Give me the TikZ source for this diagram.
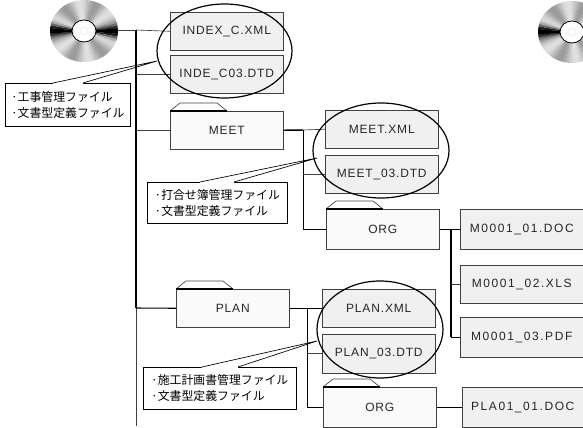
\documentclass[tikz,border=0pt]{standalone}
\usepackage{fontspec}
\setmainfont{Liberation Sans}
\newfontfamily\jpfont{Noto Sans CJK JP}
\usetikzlibrary{calc,shapes.geometric}
\definecolor{edgegray}{HTML}{404040}
\def\px{0.75pt}
\tikzset{
  filebox/.style={draw=edgegray, fill=black!6, text=black!85, minimum width=113*\px, minimum height=38*\px, anchor=north west, inner sep=0pt, font=\fontsize{9}{11}\selectfont\addfontfeature{LetterSpace=7}},
  folderbox/.style={filebox, fill=black!2},
  widefile/.style={filebox, minimum width=123*\px, font=\fontsize{9}{11}\selectfont\addfontfeature{LetterSpace=13}},
  notebox/.style={draw=black, fill=white, anchor=north west, align=left, inner sep=0pt, font=\jpfont\fontsize{8.9}{12}\selectfont},
  ringshape/.style={draw=black, line width=0.9pt, ellipse, inner sep=0pt},
  link/.style={draw=edgegray, line width=0.5pt},
  thicklink/.style={draw=black, line width=1.1pt},
  pointer/.style={draw=black, line width=0.5pt},
}
% folder tab on top of a box
\newcommand{\foldertab}[1]{
  \draw[edgegray, line width=0.5pt] (#1.north west) -- ++(10,-8) -- ++(37,0) -- ++(10,8);
  \draw[black, line width=1pt] (#1.north west) -- ++(57,0);
}
% wedge from a note to its ring, open towards the note
\newcommand{\notewedge}[4]{
  \draw[white, line width=1pt] ($(#1.north west)+(#2,0)$) -- ($(#1.north west)+(#3,0)$);
  \draw[pointer] ($(#1.north west)+(#2,0)$) -- (#4) -- ($(#1.north west)+(#3,0)$);
}
\begin{document}
\begin{tikzpicture}[x=0.75pt,y=-0.75pt]
  \useasboundingbox (0,0) rectangle (583,428);

  % discs
  \begin{scope}
    \clip (0,0) rectangle (583,428);
    \foreach \cdx/\cdy in {84/31,572/32} {
      \begin{scope}[shift={(\cdx,\cdy)}]
        \foreach \ang in {0,5,...,355} {
          \pgfmathsetmacro{\tone}{max(4,min(100,26+74*pow(abs(cos(\ang)),40)+14*cos(6*\ang+60)))}
          \fill[black!\tone!white] (0,0) -- ({34*cos(\ang)},{31*sin(\ang)}) -- ({34*cos(\ang+5.5)},{31*sin(\ang+5.5)}) -- cycle;
        }
        \fill[white] (0,0) ellipse (12 and 11);
        \draw[black, line width=0.6pt] (0,0) ellipse (12 and 11);
        \draw[black!10, line width=0.3pt] (0,0) ellipse (4 and 4);
      \end{scope}
    }
  \end{scope}
  \coordinate (disc) at (118,30);

  % top level
  \node[filebox] (indexc) at (170,12) {INDEX\_C.XML};
  \node[filebox] (indedtd) at (170,55) {INDE\_C03.DTD};
  \node[folderbox] (meet) at (170,111) {MEET};
  \node[folderbox] (plan) at (176,289) {PLAN};

  % meet files
  \node[filebox] (meetxml) at (325,110) {MEET.XML};
  \node[filebox] (meetdtd) at (325,155) {MEET\_03.DTD};
  \node[folderbox, minimum height=40*\px] (orgm) at (326,209) {ORG};
  \node[widefile, minimum height=40*\px] (mone) at (460,209) {M0001\_01.DOC};
  \node[widefile] (mtwo) at (460,265) {M0001\_02.XLS};
  \node[widefile, minimum height=40*\px] (mthree) at (460,317) {M0001\_03.PDF};

  % plan files
  \node[filebox] (planxml) at (322,289) {PLAN.XML};
  \node[filebox, minimum height=39*\px] (plandtd) at (322,334) {PLAN\_03.DTD};
  \node[folderbox, minimum height=40*\px] (orgp) at (323,387) {ORG};
  \node[widefile, minimum height=40*\px, minimum width=121*\px] (plaone) at (462,387) {PLA01\_01.DOC};

  \foldertab{meet}
  \foldertab{plan}
  \foldertab{orgm}
  \foldertab{orgp}

  % trunk and branch points
  \coordinate (trunktop) at (136,30);
  \coordinate (trunkplan) at (136,308);
  \coordinate (trunkend) at (136,426);
  \coordinate (meetjoin) at (303,130);
  \coordinate (planjoin) at (307,308);
  \coordinate (orgjoin) at (451,229);

  \draw[thicklink] (trunktop) -- (trunkplan);
  \draw[link] (trunkplan) -- (trunkend);
  \draw[link] (disc) -- (trunktop);
  \draw[link] (trunktop) -- (indexc.west);
  \draw[link] (indedtd.west) -- (indedtd.west -| trunktop);
  \draw[link] (meet.west) -- (meet.west -| trunktop);
  \draw[thicklink, line width=0.8pt] (plan.west) -- (trunkplan);

  \draw[thicklink] (meet.east) -- (meetjoin);
  \draw[link] (meetjoin) -- (meetxml.west);
  \draw[link, black] (meetjoin) |- (orgm.west);
  \draw[link] (meetdtd.west) -- (meetdtd.west -| meetjoin);

  \draw[thicklink] (plan.east) -- (planxml.west);
  \draw[link, black] (planjoin) |- (orgp.west);
  \draw[link] (plandtd.west) -- (plandtd.west -| planjoin);
  \draw[link, black] (orgp.east) -- (plaone.west);

  \draw[link, black] (orgm.east) -- (mone.west);
  \draw[thicklink, line width=0.8pt] (orgjoin) -- (orgjoin |- mthree.west);
  \draw[link] (mtwo.west) -- (mtwo.west -| orgjoin);
  \draw[link, black] (mthree.west) -- (mthree.west -| orgjoin);

  % rings
  \node[ringshape, minimum width=135*\px, minimum height=94*\px] (ringa) at (224.5,51) {};
  \node[ringshape, minimum width=136*\px, minimum height=95*\px] (ringb) at (381,150.5) {};
  \node[ringshape, minimum width=126*\px, minimum height=97*\px] (ringc) at (380,329.5) {};

  % notes with wedge
  \node[notebox, minimum width=125*\px, minimum height=43*\px] (notea) at (5,83) {·工事管理ファイル\\·文書型定義ファイル};
  \node[notebox, minimum width=140*\px, minimum height=41*\px] (noteb) at (147,182) {·打合せ簿管理ファイル\\·文書型定義ファイル};
  \node[notebox, minimum width=153*\px, minimum height=42*\px] (notec) at (143,367) {·施工計画書管理ファイル\\·文書型定義ファイル};

  \coordinate (tipa) at (157,61);
  \coordinate (tipb) at (317,158);
  \coordinate (tipc) at (317,341);
  \notewedge{notea}{48}{78}{tipa}
  \notewedge{noteb}{53}{87}{tipb}
  \notewedge{notec}{59}{95}{tipc}
\end{tikzpicture}
\end{document}
